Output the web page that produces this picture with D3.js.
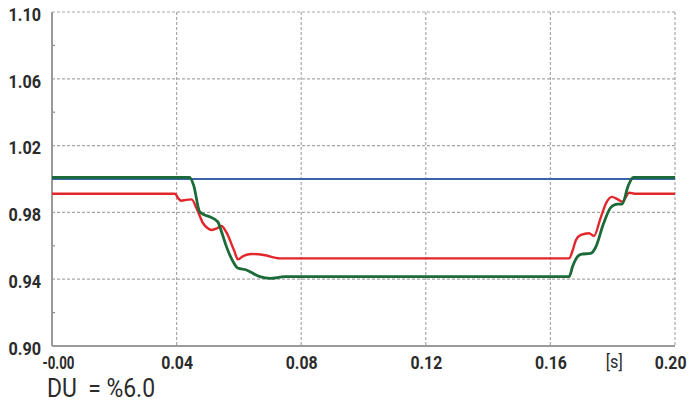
<!DOCTYPE html>
<html>
<head>
<meta charset="utf-8">
<script src="https://cdn.jsdelivr.net/npm/d3@7"></script>
<style>
  html, body { margin: 0; padding: 0; background: #fff; }
  svg { display: block; }
  .tick text { font-family: Roboto, "Noto Sans", sans-serif; font-weight: bold; font-size: 18px; fill: #2b2b2b; }
</style>
</head>
<body>
<svg id="chart" width="691" height="403"></svg>
<script>
// Time axis ticks [s] and voltage ticks [p.u.]
const xTicks = [0, 0.04, 0.08, 0.12, 0.16, 0.20];
const xTickLabels = ["-0.00", "0.04", "0.08", "0.12", "0.16", "0.20"];
const yTicks = [0.90, 0.94, 0.98, 1.02, 1.06, 1.10];
const yTickLabels = ["0.90", "0.94", "0.98", "1.02", "1.06", "1.10"];
const yMinorTicks = [0.92, 0.96, 1.00, 1.04, 1.08];

// Reference voltage (blue)
const seriesBlue = [[0, 1.000], [0.20, 1.000]];

// Red trace: [t, U]
const seriesRed = [
  [0, 0.9912], [0.0395, 0.9912], [0.0405, 0.9885], [0.0415, 0.9870], [0.0430, 0.9875],
  [0.0448, 0.9878], [0.0465, 0.9820], [0.0485, 0.9735], [0.0500, 0.9705], [0.0512, 0.9695],
  [0.0530, 0.9705], [0.0544, 0.9719], [0.0560, 0.9680], [0.0585, 0.9570], [0.0597, 0.9519],
  [0.0615, 0.9540], [0.0640, 0.9551], [0.0680, 0.9545], [0.0731, 0.9525], [0.1660, 0.9525],
  [0.1672, 0.9575], [0.1682, 0.9635], [0.1698, 0.9665], [0.1724, 0.9675], [0.1740, 0.9659],
  [0.1760, 0.9760], [0.1780, 0.9860], [0.1797, 0.9893], [0.1815, 0.9880], [0.1831, 0.9864],
  [0.1853, 0.9918], [0.1870, 0.9912], [0.20, 0.9912]
];

// Green trace: [t, U]
const seriesGreen = [
  [0, 1.001], [0.0442, 1.001], [0.0455, 0.9960], [0.0474, 0.9804], [0.0490, 0.9785],
  [0.0506, 0.9774], [0.0532, 0.9744], [0.0545, 0.9680], [0.0560, 0.9595], [0.0580, 0.9510],
  [0.0596, 0.9467], [0.0624, 0.9455], [0.0667, 0.9415], [0.0700, 0.9405], [0.0747, 0.9415],
  [0.1660, 0.9415], [0.1672, 0.9480], [0.1687, 0.9535], [0.1700, 0.9550], [0.1729, 0.9555],
  [0.1745, 0.9590], [0.1770, 0.9730], [0.1794, 0.9830], [0.1815, 0.9850], [0.1830, 0.9850],
  [0.1850, 0.9960], [0.1866, 1.0010], [0.20, 1.001]
];

const unitLabel = "[s]";
const caption = "DU  = %6.0";

const svg = d3.select("#chart");
const plotLeft = 52, plotRight = 675, plotTop = 12, plotBottom = 346;

const x = d3.scaleLinear().domain([0, 0.20]).range([plotLeft, plotRight]);
const y = d3.scaleLinear().domain([0.90, 1.10]).range([plotBottom, plotTop]);

// Squeeze text horizontally to a condensed look
function condense(sel, factor) {
  sel.each(function () {
    const w = this.getComputedTextLength();
    d3.select(this).attr("textLength", w * factor).attr("lengthAdjust", "spacingAndGlyphs");
  });
}

// Dashed grid
const grid = svg.append("g");
grid.selectAll("line.v").data(xTicks.slice(1)).join("line").attr("class", "v")
  .attr("x1", d => x(d)).attr("x2", d => x(d))
  .attr("y1", plotTop).attr("y2", plotBottom)
  .attr("stroke", "#a8a8a8").attr("stroke-width", 1.2).attr("stroke-dasharray", "3,2");
grid.selectAll("line.h").data(yTicks.slice(1)).join("line").attr("class", "h")
  .attr("x1", plotLeft).attr("x2", plotRight)
  .attr("y1", d => y(d)).attr("y2", d => y(d))
  .attr("stroke", "#a8a8a8").attr("stroke-width", 1.2).attr("stroke-dasharray", "3,2");

// Y axis
const yAxis = svg.append("g").attr("transform", `translate(${plotLeft},0)`)
  .call(d3.axisLeft(y).tickValues(yTicks).tickSize(0).tickPadding(11)
    .tickFormat((d, i) => yTickLabels[i]));
yAxis.select(".domain").remove();
yAxis.selectAll(".tick text").attr("dy", "0.32em").attr("y", 2.5);
condense(yAxis.selectAll(".tick text"), 0.9);

// Minor y ticks pointing inward
svg.append("g").selectAll("line").data(yMinorTicks).join("line")
  .attr("x1", plotLeft).attr("x2", plotLeft + 3)
  .attr("y1", d => y(d)).attr("y2", d => y(d))
  .attr("stroke", "#8a8a8a").attr("stroke-width", 1.2);

// X axis
const xAxis = svg.append("g").attr("transform", `translate(0,${plotBottom})`)
  .call(d3.axisBottom(x).tickValues(xTicks).tickSize(0).tickPadding(10)
    .tickFormat((d, i) => xTickLabels[i]));
xAxis.select(".domain").remove();
xAxis.selectAll(".tick text").attr("dy", "0.71em");
condense(xAxis.selectAll(".tick text"), 0.88);
// first label starts just right of the y labels, last one is pulled inside the frame
xAxis.selectAll(".tick").filter(d => d === 0).select("text")
  .attr("text-anchor", "start").attr("x", -10).attr("textLength", 32);
xAxis.selectAll(".tick").filter(d => d === 0.20).select("text")
  .attr("text-anchor", "end").attr("x", 11);

// Unit label on the time axis
const unit = svg.append("text")
  .attr("x", x(0.1805)).attr("y", plotBottom + 22)
  .attr("text-anchor", "middle")
  .style("font-family", 'Roboto, "Noto Sans", sans-serif')
  .style("font-size", "18px").style("fill", "#2b2b2b")
  .text(unitLabel);
condense(unit, 0.9);

// Solid axis lines
svg.append("line").attr("x1", plotLeft).attr("x2", plotLeft).attr("y1", plotTop).attr("y2", plotBottom)
  .attr("stroke", "#9a9a9a").attr("stroke-width", 2);
svg.append("line").attr("x1", plotLeft).attr("x2", plotRight).attr("y1", plotBottom).attr("y2", plotBottom)
  .attr("stroke", "#9a9a9a").attr("stroke-width", 2);

// Traces
const line = d3.line().x(d => x(d[0])).y(d => y(d[1])).curve(d3.curveMonotoneX);
svg.append("path").datum(seriesBlue).attr("d", line)
  .attr("fill", "none").attr("stroke", "#3b63a7").attr("stroke-width", 2);
svg.append("path").datum(seriesRed).attr("d", line)
  .attr("fill", "none").attr("stroke", "#e3262b").attr("stroke-width", 2.4);
svg.append("path").datum(seriesGreen).attr("d", line)
  .attr("fill", "none").attr("stroke", "#1b6a38").attr("stroke-width", 2.8);

// Caption
const cap = svg.append("text")
  .attr("x", 47).attr("y", 397)
  .style("font-family", 'Roboto, "Noto Sans", sans-serif')
  .style("font-size", "26px").style("fill", "#2b2b2b")
  .style("white-space", "pre")
  .text(caption);
cap.attr("textLength", 108).attr("lengthAdjust", "spacingAndGlyphs");
</script>
</body>
</html>
